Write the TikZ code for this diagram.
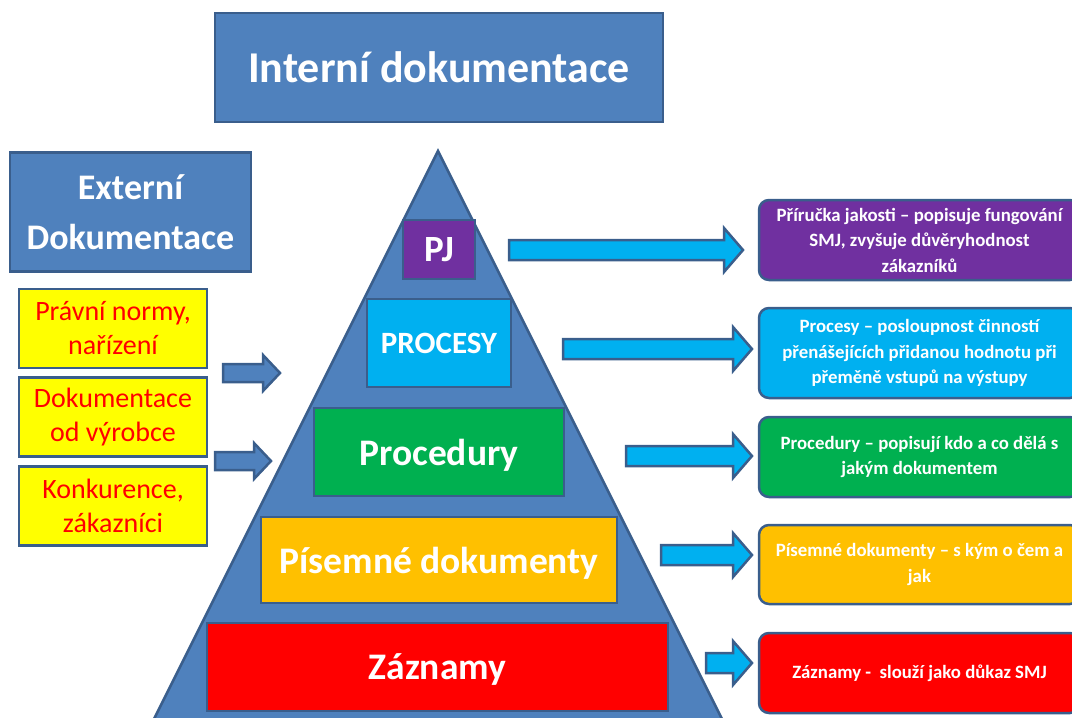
\documentclass[tikz,border=0pt]{standalone}
\usepackage{fontspec}
\setmainfont{Carlito}
\usetikzlibrary{calc}

\definecolor{steel}{HTML}{4F81BD}
\definecolor{edge}{HTML}{3A5E8C}
\definecolor{violet}{HTML}{7030A0}
\definecolor{sky}{HTML}{00B0F0}
\definecolor{leaf}{HTML}{00B050}
\definecolor{gold}{HTML}{FFC000}
\definecolor{scarlet}{HTML}{FF0000}
\definecolor{lemon}{HTML}{FFFF00}

% block arrow: #1 fill, #2 tail, #3 tip, #4 shaft half height, #5 head half height, #6 head length
\newcommand{\fatarrow}[6]{%
  \draw[arrowline, fill=#1] let \p1=(#2), \p2=(#3) in
    (\x1,\y1+#4pt) -- (\x2-#6pt,\y1+#4pt) -- (\x2-#6pt,\y1+#5pt) -- (\x2,\y1)
    -- (\x2-#6pt,\y1-#5pt) -- (\x2-#6pt,\y1-#4pt) -- (\x1,\y1-#4pt) -- cycle;}

\begin{document}
\begin{tikzpicture}[x=1pt,y=-1pt,
  base/.style={draw=edge, line width=2.5pt, align=center, inner sep=0pt, text=white, font=\bfseries},
  bluebox/.style={base, fill=steel},
  tier/.style={base, text depth=0pt},
  infobox/.style={base, rounded corners=10pt, minimum width=321pt,
    font=\bfseries\fontsize{18.8}{25.5}\selectfont},
  source/.style={draw=edge, line width=2.5pt, fill=lemon, text=scarlet, align=center,
    inner sep=0pt, minimum width=188pt, minimum height=79pt,
    font=\fontsize{28}{34}\selectfont},
  arrowline/.style={draw=edge, line width=2.5pt, line join=miter},
  pyr/.style={draw=edge, line width=2.5pt, fill=steel, line join=miter}]

\useasboundingbox (0,0) rectangle (1072,718);
\clip (0,0) rectangle (1072,718);

% headings
\node[bluebox, minimum width=448pt, minimum height=109pt, text depth=0pt,
  font=\bfseries\fontsize{44}{50}\selectfont] (intern) at (439,67.5) {Interní dokumentace};
\node[bluebox, minimum width=241pt, minimum height=119pt,
  font=\bfseries\fontsize{36}{50}\selectfont] (extern) at (130.5,212) {Externí\\Dokumentace};

% external sources
\node[source] (law) at (113,328.5) {Právní normy,\\nařízení};
\node[source] (maker) at (113,417) {Dokumentace\\od výrobce};
\node[source] (market) at (113,506) {Konkurence,\\zákazníci};

% pyramid
\coordinate (apex) at (438,151);
\coordinate (bl) at (146,735);
\coordinate (br) at (730,735);
\draw[pyr] (apex) -- (bl) -- (br) -- cycle;

% pyramid tiers
\node[tier, fill=violet, minimum width=72pt, minimum height=59pt,
  font=\bfseries\fontsize{37}{40}\selectfont] (pj) at (439,249.5) {PJ};
\node[tier, fill=sky, minimum width=144pt, minimum height=88pt,
  font=\bfseries\fontsize{31}{36}\selectfont] (procesy) at (439,343) {PROCESY};
\node[tier, fill=leaf, minimum width=250pt, minimum height=88pt,
  font=\bfseries\fontsize{37.5}{40}\selectfont] (procedury) at (439,452) {Procedury};
\node[tier, fill=gold, minimum width=356pt, minimum height=86pt,
  font=\bfseries\fontsize{37.5}{40}\selectfont] (pisemne) at (439,560) {Písemné dokumenty};
\node[tier, fill=scarlet, minimum width=461pt, minimum height=88pt,
  font=\bfseries\fontsize{37.5}{40}\selectfont] (zaznamy) at (437.5,667) {Záznamy};

% descriptions
\node[infobox, fill=violet, minimum height=80pt] (d1) at (919.5,240)
  {Příručka jakosti – popisuje fungování\\SMJ, zvyšuje důvěryhodnost\\zákazníků};
\node[infobox, fill=sky, minimum height=90pt] (d2) at (919.5,353)
  {Procesy – posloupnost činností\\přenášejících přidanou hodnotu při\\přeměně vstupů na výstupy};
\node[infobox, fill=leaf, minimum height=80pt] (d3) at (919.5,457)
  {Procedury – popisují kdo a co dělá s\\jakým dokumentem};
\node[infobox, fill=gold, minimum height=79pt] (d4) at (919.5,564.5)
  {Písemné dokumenty – s kým o čem a\\jak};
\node[infobox, fill=scarlet, minimum height=80pt] (d5) at (919.5,673)
  {Záznamy -\ \ slouží jako důkaz SMJ};

% arrow end points
\coordinate (l1s) at (223,373);  \coordinate (l1e) at (280,373);
\coordinate (l2s) at (215,461);  \coordinate (l2e) at (271,461);
\coordinate (a1s) at (509,250);  \coordinate (a1e) at (743,250);
\coordinate (a2s) at (563,349);  \coordinate (a2e) at (752,349);
\coordinate (a3s) at (626,456);  \coordinate (a3e) at (752,456);
\coordinate (a4s) at (661,555);  \coordinate (a4e) at (752,555);
\coordinate (a5s) at (706,663);  \coordinate (a5e) at (752,663);

% inputs into the pyramid
\fatarrow{steel}{l1s}{l1e}{9}{18}{17}
\fatarrow{steel}{l2s}{l2e}{9}{18}{17}

% tiers to descriptions
\fatarrow{sky}{a1s}{a1e}{10}{22}{19}
\fatarrow{sky}{a2s}{a2e}{10}{22}{19}
\fatarrow{sky}{a3s}{a3e}{10}{22}{19}
\fatarrow{sky}{a4s}{a4e}{10}{22}{19}
\fatarrow{sky}{a5s}{a5e}{10}{22}{19}

\end{tikzpicture}
\end{document}
